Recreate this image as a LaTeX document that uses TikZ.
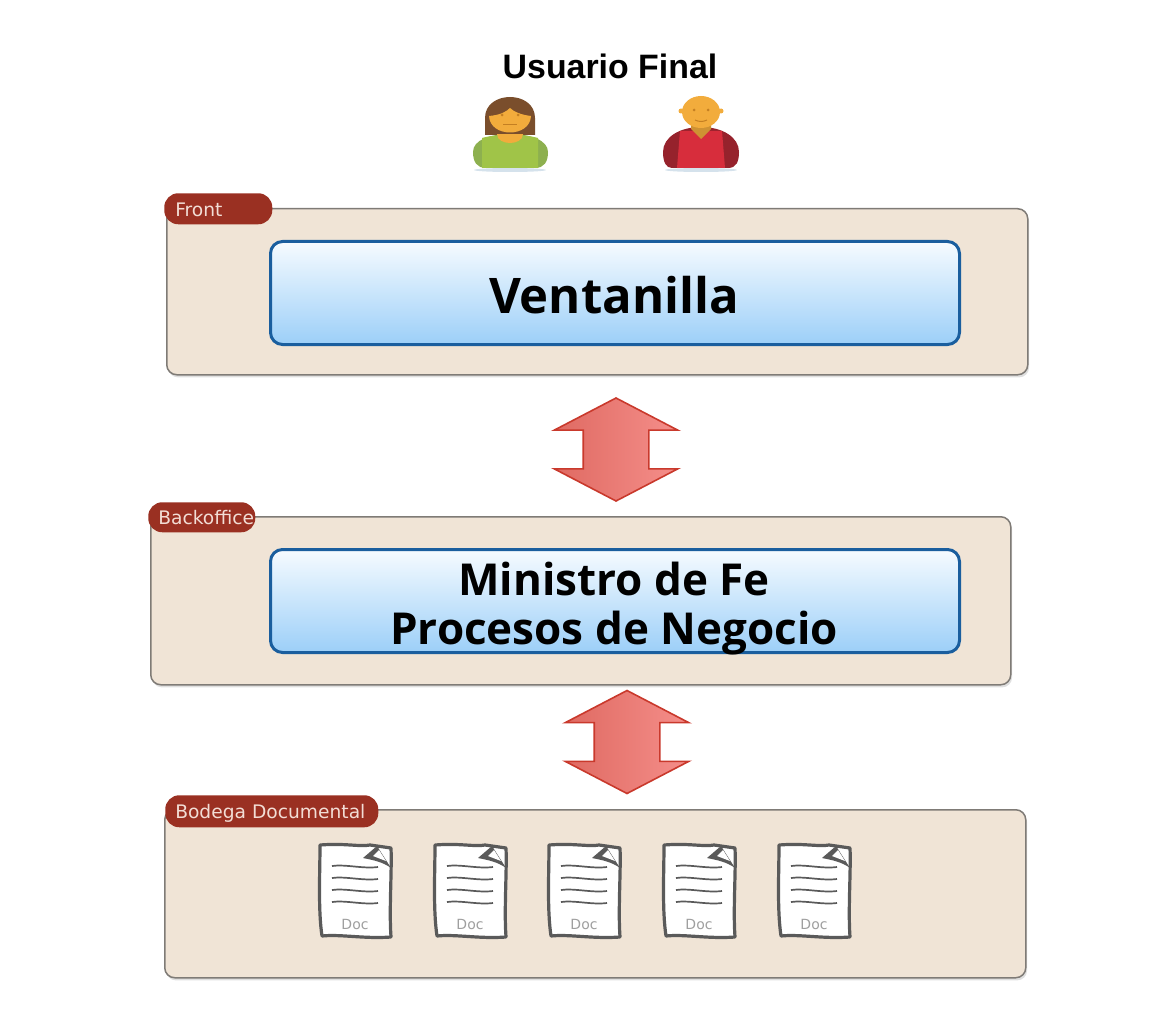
\documentclass[tikz,border=0pt]{standalone}
\usepackage{fontspec}
\setmainfont{DejaVu Sans}
\newfontfamily\titlefont{Liberation Sans}
\newfontfamily\boxfont{Open Sans}
\usetikzlibrary{shapes.arrows,shadows}
\newcommand{\pxu}{0.75pt}
\definecolor{panelfill}{HTML}{F0E4D6}
\definecolor{panelline}{HTML}{7F7B76}
\definecolor{tagred}{HTML}{9A3022}
\definecolor{tagtext}{HTML}{F2DDD5}
\definecolor{boxline}{HTML}{1A5E9E}
\definecolor{boxtop}{HTML}{F6FBFF}
\definecolor{boxbottom}{HTML}{9CCFF8}
\definecolor{arrowline}{HTML}{C9392C}
\definecolor{arrowdark}{HTML}{DF6A62}
\definecolor{arrowlight}{HTML}{F58E8A}
\definecolor{docline}{HTML}{5A5A5A}
\definecolor{skinfill}{HTML}{F2AC3C}
\definecolor{skinline}{HTML}{C47F22}
\definecolor{hairbrown}{HTML}{7A4E2C}
\definecolor{shirtgreen}{HTML}{A0C448}
\definecolor{sleevegreen}{HTML}{8DB04F}
\definecolor{shirtred}{HTML}{D72D3C}
\definecolor{sleevered}{HTML}{96222C}
\definecolor{floorblue}{HTML}{D5E2EC}
\tikzset{
    panel/.style={draw=panelline, rounded corners=10*\pxu, fill=panelfill, line width=1.5*\pxu, anchor=north west,
        drop shadow={shadow xshift=1pt, shadow yshift=-2pt, opacity=0.25}},
    tag/.style={fill=tagred, rounded corners=14*\pxu, anchor=north west, inner sep=0pt},
    tagtitle/.style={anchor=west, text=tagtext, font=\fontsize{14}{16}\selectfont, inner sep=0pt},
    mainbox/.style={draw=boxline, rounded corners=12*\pxu, line width=3*\pxu, top color=boxtop, bottom color=boxbottom,
        minimum width=689*\pxu, minimum height=103*\pxu, anchor=north west, inner sep=0pt},
    boxtext/.style={font=\boxfont\fontsize{33}{36.75}\selectfont\bfseries, align=center, text=black},
    updown/.style={double arrow, rotate=90, draw=arrowline, line width=1.6*\pxu, left color=arrowdark, right color=arrowlight,
        minimum height=103*\pxu, double arrow head extend=29*\pxu, double arrow tip angle=125, inner xsep=0pt, inner ysep=32*\pxu},
    pics/docpage/.style={code={
        \draw[docline, line width=3.2*\pxu, fill=white, line join=round] (-35,-45) .. controls (-10,-47) and (5,-43) .. (15,-45) -- (36,-42)
            .. controls (37,-20) and (34,20) .. (36,47) .. controls (10,49) and (-15,44) .. (-33,46) .. controls (-37,20) and (-35,-20) .. (-35,-45) -- cycle;
        \fill[docline] (8,-32) -- (22,-44) -- (36,-22) .. controls (28,-28) and (18,-30) .. (8,-32) -- cycle;
        \fill[white] (18,-34) -- (24,-40) -- (31,-29) -- cycle;
        \foreach \liney in {-24,-12,0,12} {
            \draw[docline, line width=1.7*\pxu] (-23,\liney) .. controls (-10,\liney-2) and (8,\liney+3) .. (23,\liney+1);
        }
        \node[font=\fontsize{10.5}{12}\selectfont, text=gray!75] (-doclabel) at (0,34) {Doc};
    }},
}
\begin{document}
\begin{tikzpicture}[x=0.75pt, y=-0.75pt]
    \useasboundingbox (0,0) rectangle (1162,1012);

    % Title
    \node[font=\titlefont\fontsize{25.4}{28}\selectfont\bfseries] (usuario) at (610,66) {Usuario Final};

    % Woman
    \fill[floorblue] (510,170) ellipse (36 and 2);
    \fill[hairbrown] (485,135) -- (485,118) .. controls (485,90) and (535,90) .. (535,118) -- (535,135) -- cycle;
    \fill[sleevegreen] (473,152) .. controls (473,140) and (490,134) .. (510,134) .. controls (530,134) and (548,140) .. (548,152)
        .. controls (548,162) and (544,168) .. (535,168) -- (486,168) .. controls (477,168) and (473,162) .. (473,152) -- cycle;
    \fill[shirtgreen] (482,138) .. controls (495,134) and (525,134) .. (538,138) -- (538,168) -- (482,168) -- cycle;
    \fill[skinfill] (497,134) -- (523,134) .. controls (523,146) and (497,146) .. (497,134) -- cycle;
    \fill[skinfill] (489,116) .. controls (500,115) and (506,112) .. (510,108) .. controls (514,112) and (522,115) .. (531,116) .. controls (530,138) and (490,138) .. (489,116) -- cycle;
    \fill[skinline] (502,115) circle (1.5);
    \fill[skinline] (518,115) circle (1.5);
    \draw[skinline, line width=1*\pxu] (503,125) -- (517,125);

    % Man
    \fill[floorblue] (701,170) ellipse (36 and 2);
    \fill[sleevered] (663,152) .. controls (663,137) and (680,127) .. (701,127) .. controls (722,127) and (739,137) .. (739,152)
        .. controls (739,162) and (736,168) .. (728,168) -- (672,168) .. controls (666,168) and (663,162) .. (663,152) -- cycle;
    \fill[shirtred] (680,131) -- (722,131) -- (725,168) -- (677,168) -- cycle;
    \fill[skinfill!85!black] (691,122) -- (711,122) -- (711,129) -- (701,139) -- (691,129) -- cycle;
    \fill[skinfill] (701,112) ellipse (19 and 16);
    \fill[skinfill] (681,111) circle (2.5);
    \fill[skinfill] (721,111) circle (2.5);
    \fill[skinline] (694,110) circle (1.5);
    \fill[skinline] (708,110) circle (1.5);
    \draw[skinline, line width=1*\pxu] (695,120) .. controls (699,122) and (703,122) .. (707,120);

    % Front
    \node[panel, minimum width=861*\pxu, minimum height=166*\pxu] (frontpanel) at (166,208) {};
    \node[tag, minimum width=108*\pxu, minimum height=31*\pxu] (fronttag) at (164,193) {};
    \node[tagtitle] (fronttitle) at (175,210) {Front};
    \node[mainbox] (ventanilla) at (269,240) {};
    \node[boxtext, font=\boxfont\fontsize{36.8}{40}\selectfont\bfseries] (ventanillatext) at (614,295) {Ventanilla};

    % Arrow 1
    \node[updown] (arrowone) at (616,449.5) {};

    % Backoffice
    \node[panel, minimum width=860*\pxu, minimum height=168*\pxu] (backpanel) at (150,516) {};
    \node[tag, minimum width=107*\pxu, minimum height=30*\pxu] (backtag) at (148,502) {};
    \node[tagtitle] (backtitle) at (158,518) {Backoffice};
    \node[mainbox] (ministro) at (269,548) {};
    \node[boxtext] (ministrotext) at (614,609) {Ministro de Fe\\Procesos de Negocio};

    % Arrow 2
    \node[updown] (arrowtwo) at (627,742) {};

    % Bodega Documental
    \node[panel, minimum width=861*\pxu, minimum height=168*\pxu] (bodegapanel) at (164,809) {};
    \node[tag, minimum width=213*\pxu, minimum height=32*\pxu] (bodegatag) at (165,795) {};
    \node[tagtitle] (bodegatitle) at (175,813) {Bodega Documental};

    % Docs
    \foreach \docx/\docname in {355/docone,470/doctwo,584/docthree,699/docfour,814/docfive} {
        \pic (\docname) at (\docx,890) {docpage};
    }
\end{tikzpicture}
\end{document}
